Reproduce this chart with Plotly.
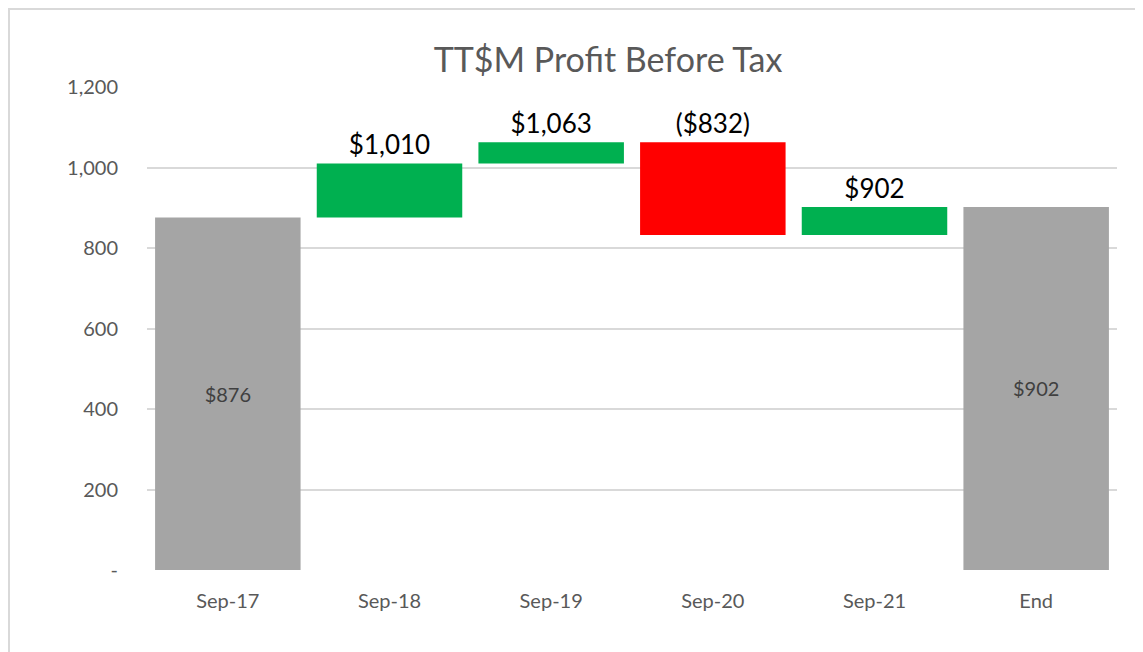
import plotly.graph_objects as go

categories = ["Sep-17", "Sep-18", "Sep-19", "Sep-20", "Sep-21", "End"]
measures = ["absolute", "relative", "relative", "relative", "relative", "total"]
values = [876, 134, 53, -231, 70, 902]
labels = ["$876", "$1,010", "$1,063", "($832)", "$902", "$902"]
tick_vals = [0, 200, 400, 600, 800, 1000, 1200]
tick_text = ["-", "200", "400", "600", "800", "1,000", "1,200"]

GREEN = "#00B050"
RED = "#FF0000"
GRAY = "#A5A5A5"

lows, heights, colors, positions = [], [], [], []
running = 0
for m, v in zip(measures, values):
    if m == "absolute":
        start, end = 0, v
        running = v
        colors.append(GRAY)
        positions.append("inside")
    elif m == "total":
        start, end = 0, running
        colors.append(GRAY)
        positions.append("inside")
    else:
        start, end = running, running + v
        running = end
        colors.append(GREEN if v >= 0 else RED)
        positions.append("outside")
    lows.append(min(start, end))
    heights.append(abs(end - start))

font_fam = "Lato, Open Sans, sans-serif"

fig = go.Figure(go.Bar(
    x=categories, y=heights, base=lows,
    marker=dict(color=colors, line=dict(width=0)),
    text=labels, textposition=positions,
    insidetextanchor="middle",
    insidetextfont=dict(family=font_fam, size=20, color="#404040"),
    outsidetextfont=dict(family=font_fam, size=26, color="#000000"),
    cliponaxis=False,
    width=0.9,
    hoverinfo="skip",
))

# page body has an 8px margin, so figure is offset by 8px
W, H = 1135, 644
L, R, T, B = 139, 26, 79, 82
PW, PH = W - L - R, H - T - B

fig.update_layout(
    width=W, height=H,
    margin=dict(l=L, r=R, t=T, b=B),
    paper_bgcolor="white", plot_bgcolor="white",
    showlegend=False,
    title=dict(text="TT$M Profit Before Tax", x=600 / W, xref="container", xanchor="center",
               y=1 - 52 / H, yref="container", yanchor="middle",
               font=dict(family=font_fam, size=34, color="#595959")),
    font=dict(family=font_fam),
    bargap=0.1,
)
fig.update_yaxes(range=[0, 1200], tickvals=tick_vals, ticktext=tick_text,
                 showgrid=True, gridcolor="#D9D9D9", gridwidth=1.5,
                 zeroline=False, showline=False, ticks="", ticklabelstandoff=28,
                 tickfont=dict(family=font_fam, size=20, color="#595959"))
fig.update_xaxes(showgrid=False, showline=False, ticks="", ticklabelstandoff=17,
                 tickfont=dict(family=font_fam, size=20, color="#595959"))

fig.add_shape(type="rect", xref="paper", yref="paper",
              x0=(1 - L) / PW, x1=1.2, y0=-0.3, y1=(PH + T - 1) / PH,
              line=dict(color="#D9D9D9", width=2), fillcolor="rgba(0,0,0,0)", layer="below")

fig.write_html("out.html")
